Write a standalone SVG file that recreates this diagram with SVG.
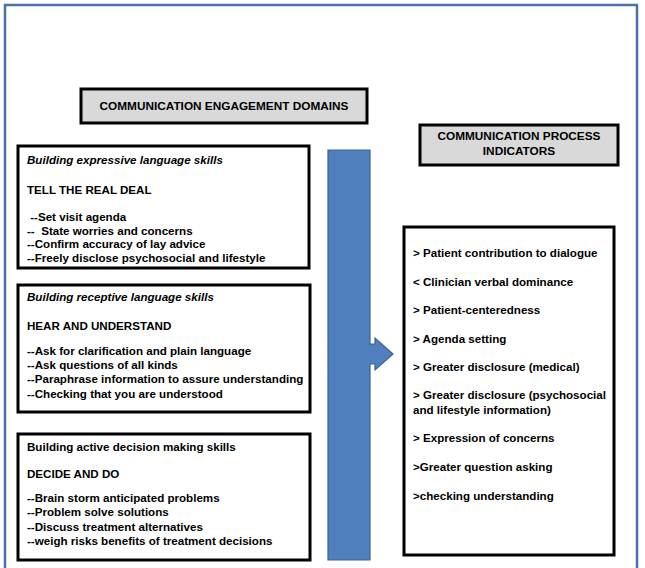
<svg xmlns="http://www.w3.org/2000/svg" width="645" height="568" viewBox="0 0 645 568">
<style>
text{font-family:"Liberation Sans",Arial,sans-serif;font-weight:bold;font-size:11.6px;fill:#000}
.it{font-style:italic}
.h{font-size:11.8px}
.hdr{fill:#d9d9d9;stroke:#000;stroke-width:3}
.box{fill:#fff;stroke:#000;stroke-width:3}
.c{text-anchor:middle}
</style>
<rect x="0" y="0" width="645" height="568" fill="#fff"/>
<rect id="frame" x="5" y="5" width="632" height="600" fill="none" stroke="#4a72a8" stroke-width="2.5"/>
<g id="hdr-engagement">
<rect class="hdr" x="81" y="89" width="286" height="34"/>
<text class="c h" x="224" y="110">COMMUNICATION ENGAGEMENT DOMAINS</text>
</g>
<g id="hdr-process">
<rect class="hdr" x="420" y="125" width="198" height="40"/>
<text class="c h" x="519" y="140">COMMUNICATION PROCESS</text>
<text class="c h" x="519" y="155">INDICATORS</text>
</g>
<g id="box-expressive">
<rect class="box" x="18" y="146" width="291" height="122"/>
<text class="it" x="27" y="164">Building expressive language skills</text>
<text x="27" y="194">TELL THE REAL DEAL</text>
<text x="27" y="221" xml:space="preserve"> --Set visit agenda</text>
<text x="27" y="235" xml:space="preserve">--  State worries and concerns</text>
<text x="27" y="248">--Confirm accuracy of lay advice</text>
<text x="27" y="262">--Freely disclose psychosocial and lifestyle</text>
</g>
<g id="box-receptive">
<rect class="box" x="18" y="285" width="292" height="127"/>
<text class="it" x="27" y="301">Building receptive language skills</text>
<text x="27" y="330">HEAR AND UNDERSTAND</text>
<text x="27" y="355">--Ask for clarification and plain language</text>
<text x="27" y="369">--Ask questions of all kinds</text>
<text x="27" y="383">--Paraphrase information to assure understanding</text>
<text x="27" y="398">--Checking that you are understood</text>
</g>
<g id="box-decision">
<rect class="box" x="18" y="434" width="292" height="126"/>
<text x="27" y="451">Building active decision making skills</text>
<text x="27" y="478">DECIDE AND DO</text>
<text x="27" y="502">--Brain storm anticipated problems</text>
<text x="27" y="516">--Problem solve solutions</text>
<text x="27" y="531">--Discuss treatment alternatives</text>
<text x="27" y="545">--weigh risks benefits of treatment decisions</text>
</g>
<g id="connectors">
<path d="M328,150 H370 V344 H375 V338 L393,354 L375,370 V364 H370 V560 H328 Z" fill="#4f7fbd" stroke="#3b6294" stroke-width="1.2"/>
</g>
<g id="box-indicators">
<rect class="box" x="404" y="227" width="210" height="328"/>
<text x="413" y="257">&gt; Patient contribution to dialogue</text>
<text x="413" y="286">&lt; Clinician verbal dominance</text>
<text x="413" y="314">&gt; Patient-centeredness</text>
<text x="413" y="343">&gt; Agenda setting</text>
<text x="413" y="371">&gt; Greater disclosure (medical)</text>
<text x="413" y="399">&gt; Greater disclosure (psychosocial</text>
<text x="413" y="414">and lifestyle information)</text>
<text x="413" y="442">&gt; Expression of concerns</text>
<text x="413" y="471">&gt;Greater question asking</text>
<text x="413" y="500">&gt;checking understanding</text>
</g>
</svg>
